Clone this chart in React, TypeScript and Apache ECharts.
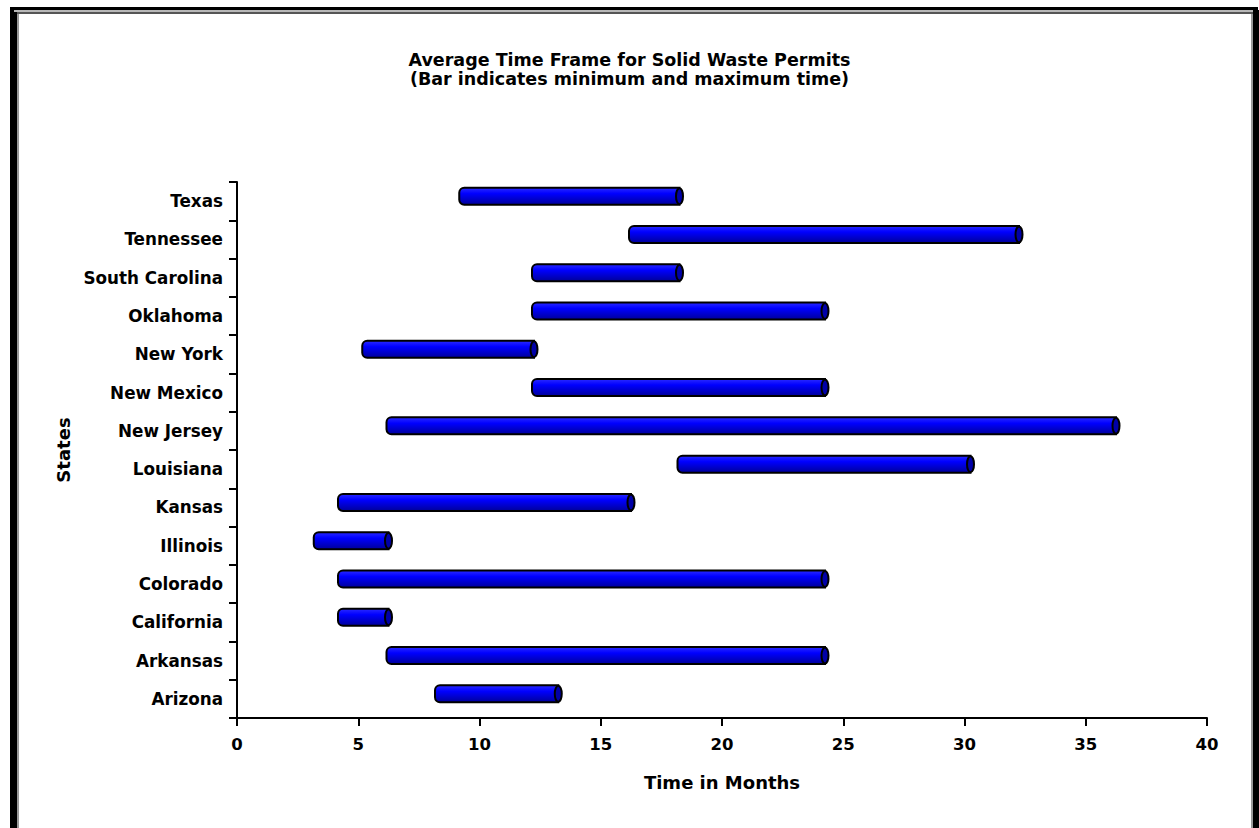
import React, { useEffect, useRef } from "react";
import * as echarts from "echarts";

// States listed bottom-to-top as they appear on the category axis
const states = [
  "Arizona",
  "Arkansas",
  "California",
  "Colorado",
  "Illinois",
  "Kansas",
  "Louisiana",
  "New Jersey",
  "New Mexico",
  "New York",
  "Oklahoma",
  "South Carolina",
  "Tennessee",
  "Texas",
];

// Minimum and maximum permit time in months, per state
const minMonths = [8, 6, 4, 4, 3, 4, 18, 6, 12, 5, 12, 12, 16, 9];
const maxMonths = [13, 24, 6, 24, 6, 16, 30, 36, 24, 12, 24, 18, 32, 18];

const FONT = "'DejaVu Sans', Verdana, sans-serif";

export default function App() {
  const ref = useRef<HTMLDivElement>(null);

  useEffect(() => {
    if (!ref.current) return;
    const chart = echarts.init(ref.current, null, { renderer: "svg" });

    const data = states.map((_, i) => [i, minMonths[i], maxMonths[i]]);

    const bodyFill = new echarts.graphic.LinearGradient(0, 0, 0, 1, [
      { offset: 0, color: "#2a2aff" },
      { offset: 0.35, color: "#0000ff" },
      { offset: 1, color: "#00009a" },
    ]);

    chart.setOption({
      animation: false,
      backgroundColor: "#ffffff",
      title: {
        text: "Average Time Frame for Solid Waste Permits\n(Bar indicates minimum and maximum time)",
        left: "center",
        top: 45,
        textStyle: {
          fontFamily: FONT,
          fontSize: 17.5,
          fontWeight: "bold",
          color: "#000",
          lineHeight: 19,
        },
      },
      grid: { left: 237, right: 52, top: 182, bottom: 110, containLabel: false },
      xAxis: {
        type: "value",
        min: 0,
        max: 40,
        interval: 5,
        name: "Time in Months",
        nameLocation: "middle",
        nameGap: 55,
        nameTextStyle: { fontFamily: FONT, fontSize: 18, fontWeight: "bold", color: "#000" },
        axisLine: { show: true, lineStyle: { color: "#000", width: 2 } },
        axisTick: { show: true, length: 8, lineStyle: { color: "#000", width: 2 } },
        axisLabel: { fontFamily: FONT, fontSize: 16.5, fontWeight: "bold", color: "#000", margin: 18 },
        splitLine: { show: false },
      },
      yAxis: {
        type: "category",
        data: states,
        name: "States",
        nameLocation: "middle",
        nameRotate: 90,
        nameGap: 164,
        nameTextStyle: { fontFamily: FONT, fontSize: 18, fontWeight: "bold", color: "#000" },
        axisLine: { show: true, lineStyle: { color: "#000", width: 2 } },
        axisTick: { show: true, length: 8, alignWithLabel: false, lineStyle: { color: "#000", width: 2 } },
        axisLabel: { fontFamily: FONT, fontSize: 16.8, fontWeight: "bold", color: "#000", margin: 14 },
        splitLine: { show: false },
      },
      series: [
        {
          type: "custom",
          encode: { x: [1, 2], y: 0 },
          data,
          renderItem: (params: any, api: any) => {
            const cat = api.value(0);
            const s = api.coord([api.value(1), cat]);
            const e = api.coord([api.value(2), cat]);
            const h = 17;
            const dx = 4;
            const cy = s[1] - 5;
            return {
              type: "group",
              children: [
                {
                  type: "rect",
                  shape: { x: s[0] + dx, y: cy - h / 2, width: e[0] - s[0] + 2, height: h, r: [5, 0, 0, 5] },
                  style: { fill: bodyFill, stroke: "#000", lineWidth: 2 },
                },
                {
                  type: "ellipse",
                  shape: { cx: e[0] + dx + 2, cy, rx: 3.5, ry: h / 2 - 0.5 },
                  style: { fill: "#0000a8", stroke: "#000", lineWidth: 2 },
                },
              ],
            };
          },
        },
      ],
      graphic: [
        // outer frame: heavy left, top and right edges with a grey inner bevel
        { type: "rect", shape: { x: 10, y: 7, width: 7, height: 821 }, style: { fill: "#000" } },
        { type: "rect", shape: { x: 17, y: 14, width: 2, height: 814 }, style: { fill: "#9a9a9a" } },
        { type: "rect", shape: { x: 10, y: 7, width: 1248, height: 3 }, style: { fill: "#000" } },
        { type: "rect", shape: { x: 14, y: 10, width: 1243, height: 2 }, style: { fill: "#b8b8b8" } },
        { type: "rect", shape: { x: 17, y: 12, width: 1236, height: 2 }, style: { fill: "#555" } },
        { type: "rect", shape: { x: 1253, y: 10, width: 6, height: 818 }, style: { fill: "#000" } },
        { type: "rect", shape: { x: 1251, y: 14, width: 2, height: 814 }, style: { fill: "#9a9a9a" } },
      ],
    });

    return () => chart.dispose();
  }, []);

  return (
    <div
      ref={ref}
      style={{ position: "fixed", left: 0, top: 0, width: 1259, height: 828, background: "#fff" }}
    />
  );
}
